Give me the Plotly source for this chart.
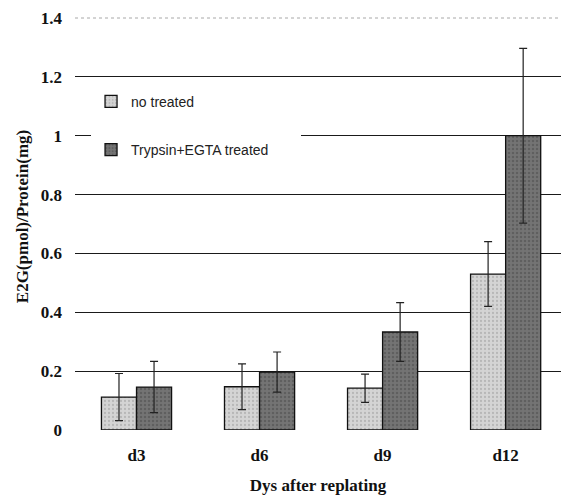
import plotly.graph_objects as go

categories = ["d3", "d6", "d9", "d12"]
no_treated = [0.112, 0.147, 0.142, 0.530]
no_treated_err = [0.080, 0.078, 0.048, 0.110]
trypsin = [0.146, 0.197, 0.333, 1.000]
trypsin_err = [0.087, 0.068, 0.100, 0.297]
y_ticks = [0, 0.2, 0.4, 0.6, 0.8, 1, 1.2, 1.4]
y_tick_text = ["0", "0.2", "0.4", "0.6", "0.8", "1", "1.2", "1.4"]

serif = "Liberation Serif"
fig = go.Figure()
fig.add_trace(go.Bar(
    name="no treated", x=categories, y=no_treated,
    marker=dict(color="#d4d4d4", line=dict(color="#111", width=1.3),
                pattern=dict(shape=".", fgcolor="#9a9a9a", size=4, solidity=0.25)),
    error_y=dict(type="data", array=no_treated_err, color="#222", thickness=1.2, width=4),
    legendgroup="a",
))
fig.add_trace(go.Bar(
    name="Trypsin+EGTA treated\u00a0\u00a0\u00a0\u00a0\u00a0\u00a0\u00a0", x=categories, y=trypsin,
    marker=dict(color="#747474", line=dict(color="#111", width=1.3),
                pattern=dict(shape=".", fgcolor="#4a4a4a", size=4, solidity=0.3)),
    error_y=dict(type="data", array=trypsin_err, color="#222", thickness=1.2, width=4),
    legendgroup="b",
))

fig.add_shape(type="line", xref="paper", yref="y", x0=0, x1=1, y0=y_ticks[-1], y1=y_ticks[-1],
              line=dict(color="white", width=3), layer="above")
fig.add_shape(type="line", xref="paper", yref="y", x0=0, x1=1, y0=y_ticks[-1], y1=y_ticks[-1],
              line=dict(color="#a8a8a8", width=1, dash="dot"), layer="above")

fig.update_layout(
    width=561, height=498,
    margin=dict(l=75, r=0, t=3, b=68, autoexpand=False),
    paper_bgcolor="white", plot_bgcolor="white",
    barmode="group", bargap=0.43, bargroupgap=0,
    showlegend=True,
    legend=dict(x=0.033, y=0.806, xanchor="left", yanchor="top",
                bgcolor="white", borderwidth=0, traceorder="grouped",
                tracegroupgap=27, itemwidth=30,
                font=dict(family="Liberation Sans", size=14, color="#222")),
    xaxis=dict(range=[-0.5, 3.45], showline=False, ticks="", showgrid=False,
               ticklabelstandoff=13, automargin=False,
               tickfont=dict(family=serif, size=17, color="#111", weight="bold"),
               title=dict(text="Dys after replating", standoff=15,
                          font=dict(family=serif, size=17, color="#111", weight="bold"))),
    yaxis=dict(range=[0, 1.451], tickvals=y_ticks, ticktext=y_tick_text,
               showgrid=True, gridcolor="#1a1a1a", gridwidth=1.2,
               zeroline=True, zerolinecolor="white", zerolinewidth=2,
               showline=False, ticks="", ticklabelstandoff=12, automargin=False,
               tickfont=dict(family=serif, size=17, color="#111", weight="bold"),
               title=dict(text="E2G(pmol)/Protein(mg)", standoff=7,
                          font=dict(family=serif, size=17, color="#111", weight="bold"))),
)

fig.write_html("out.html")
